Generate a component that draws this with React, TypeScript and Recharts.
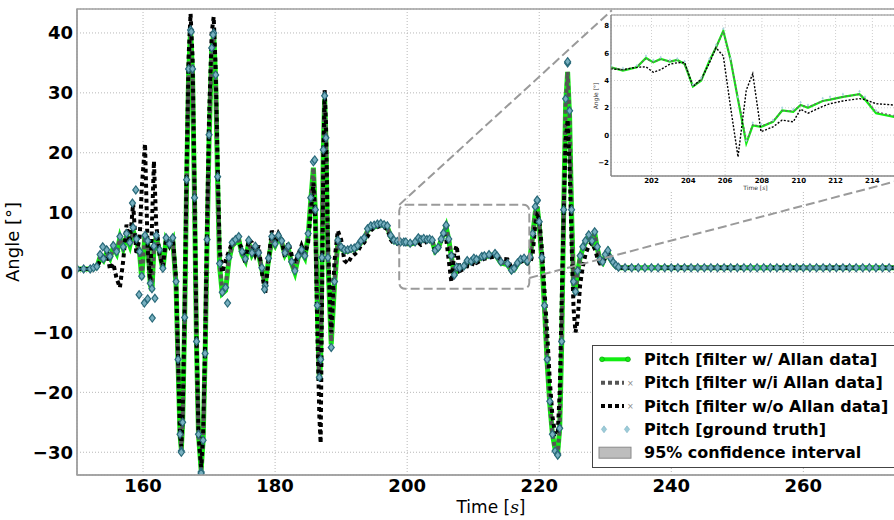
import React from 'react';
import {
  ComposedChart,
  Line,
  Scatter,
  XAxis,
  YAxis,
  CartesianGrid,
  ReferenceArea,
  ReferenceLine,
  Label,
} from 'recharts';

// time [s]
const TIME = [
  150, 151, 152, 152.5, 153, 153.5, 154, 154.5, 155, 155.5,
  156, 156.5, 157, 157.5, 158, 158.5, 159, 159.5, 159.8, 160.3,
  160.7, 161.1, 161.35, 161.65, 162, 162.5, 163, 163.5, 164, 164.5,
  165, 165.3, 165.6, 165.8, 166, 166.3, 166.6, 166.9, 167.2, 167.5,
  167.8, 168.1, 168.4, 168.8, 169.1, 169.4, 169.7, 170, 170.4, 170.7,
  171, 171.3, 171.6, 172, 172.5, 173, 173.5, 174, 174.5, 175,
  175.5, 176, 176.5, 177, 177.5, 178, 178.5, 179, 179.5, 180,
  180.5, 181, 181.5, 182, 182.5, 183, 183.5, 184, 184.5, 185,
  185.4, 185.8, 186.1, 186.4, 186.7, 186.9, 187.1, 187.3, 187.5, 187.7,
  188, 188.5, 189, 189.5, 190, 190.5, 191, 191.5, 192, 192.5,
  193, 193.5, 194, 194.5, 195, 195.5, 196, 196.5, 197, 197.5,
  198, 198.5, 199, 199.5, 199.8, 200.45, 201.2, 201.7, 202.1, 202.5,
  203, 203.4, 203.8, 204.25, 204.7, 205.15, 205.5, 205.9, 206.3, 206.7,
  207.15, 207.5, 207.95, 208.6, 209.1, 209.7, 210.1, 210.5, 211.3, 211.7,
  212.4, 213.3, 213.6, 214.2, 215.2, 215.8, 216.2, 216.7, 217.2, 217.7,
  218.2, 218.6, 219, 219.4, 219.7, 220, 220.4, 220.8, 221.2, 221.6,
  222, 222.4, 222.8, 223.1, 223.4, 223.7, 224, 224.3, 224.6, 224.9,
  225.2, 225.5, 225.8, 226.2, 226.6, 227, 227.5, 228, 228.4, 228.8,
  229.2, 229.6, 230, 230.4, 230.8, 231.2, 231.6, 232, 233, 234,
  235, 236, 237, 238, 239, 240, 241, 242, 243, 244,
  245, 246, 247, 248, 249, 250, 251, 252, 253, 254,
  255, 256, 257, 258, 259, 260, 261, 262, 263, 264,
  265, 266, 267, 268, 269, 270, 271, 272, 273, 274,
  275, 276,
];

// Pitch [filter w/ Allan data]
const PITCH_ALLAN = [
  0.6, 0.6, 0.6, 0.7, 0.9, 2.6, 2.0, 3.3, 2.4, 4.2,
  3.2, 5.8, 4.0, 6.0, 4.5, 7.0, 5.2, 3.0, -1.0, 6.5,
  5.0, -2.0, -3.0, 4.0, 6.0, 3.5, 0.5, 5.5, 4.5, 5.5,
  -2, -15, -27, -29.5, -25, -8, 15, 33, 40.5, 33,
  12, -12, -27, -33, -28, -14, 5, 22, 37, 40,
  32, 15, 1, -3.5, -3, 2, 4.5, 5, 5.5, 3,
  2, 5, 3, 4, 3, 0.5, -2, 2, 5.5, 4.5,
  5.8, 5, 3, 4, 1.5, 0, 2.5, 3.5, 2.5, 6,
  12, 17.5, 10, -6, -18, -15, 2, 20, 29, 22,
  2, -12, -2, 5, 4, 3.5, 3.5, 3.8, 3.8, 4.2,
  5, 5.5, 7, 7.5, 7.6, 7.8, 8, 7.8, 7.6, 6,
  5.2, 5, 5, 5, 4.97, 4.73, 4.97, 5.65, 5.33, 5.58,
  5.38, 5.5, 5.2, 3.56, 4.0, 5.45, 6.4, 7.64, 5.5, 2.6,
  -0.6, 0.7, 0.6, 0.97, 1.8, 1.7, 2.2, 2.0, 2.5, 2.6,
  2.8, 3.0, 2.6, 1.6, 1.33, 0.3, 0.5, 1.4, 2.0, 2.2,
  1.7, 2.4, 6, 10, 11, 8, 2, -6, -15, -22,
  -27, -29.5, -30, -26, -12, 10, 28, 33.5, 26, 10,
  -2, -3.5, 0, 2.5, 4, 5, 6, 5, 6.6, 4,
  2, 1.6, 2.8, 3.5, 2.2, 1.5, 1, 0.8, 0.8, 0.8,
  0.8, 0.8, 0.8, 0.8, 0.8, 0.8, 0.8, 0.8, 0.8, 0.8,
  0.8, 0.8, 0.8, 0.8, 0.8, 0.8, 0.8, 0.8, 0.8, 0.8,
  0.8, 0.8, 0.8, 0.8, 0.8, 0.8, 0.8, 0.8, 0.8, 0.8,
  0.8, 0.8, 0.8, 0.8, 0.8, 0.8, 0.8, 0.8, 0.8, 0.8,
  0.8, 0.8,
];

// Pitch [filter w/i Allan data]
const PITCH_WI = [
  0.6, 0.6, 0.6, 0.7, 0.9, 2.5, 2.1, 3.2, 2.5, 4.0,
  3.3, 5.6, 4.2, 5.9, 4.6, 6.8, 5.4, 3.2, -0.5, 6.3,
  5.2, -1.5, -2.8, 4.2, 5.8, 3.6, 0.8, 5.3, 4.6, 5.4,
  -2, -15, -27, -29.5, -25, -8, 15, 33, 40.5, 33,
  12, -12, -27, -33, -28, -14, 5, 22, 37, 40,
  32, 15, 1.5, -3, -2.5, 2.2, 4.5, 5, 5.4, 3.2,
  2.2, 5, 3.2, 4, 3.1, 0.7, -1.8, 2.2, 5.4, 4.6,
  5.7, 5, 3.2, 4, 1.7, 0.2, 2.5, 3.5, 2.6, 5.8,
  12, 17.5, 10, -6, -18, -15, 2, 20, 29, 22,
  2.5, -11.5, -1.5, 5, 4, 3.5, 3.5, 3.8, 3.8, 4.2,
  5, 5.5, 7, 7.5, 7.6, 7.8, 8, 7.8, 7.6, 6,
  5.2, 5, 5, 5, 4.97, 4.75, 5.0, 5.6, 5.35, 5.55,
  5.4, 5.5, 5.2, 3.6, 4.0, 5.4, 6.4, 7.6, 5.5, 2.7,
  -0.5, 0.75, 0.65, 1.0, 1.8, 1.75, 2.2, 2.05, 2.5, 2.6,
  2.8, 3.0, 2.7, 1.7, 1.4, 0.4, 0.6, 1.4, 2.0, 2.2,
  1.7, 2.4, 6, 10, 11, 8, 2, -6, -15, -22,
  -27, -29.5, -30, -26, -12, 10, 28, 33.5, 26, 10,
  -2, -3.5, 0, 2.5, 4, 5, 6, 5, 6.5, 4,
  2, 1.6, 2.8, 3.5, 2.2, 1.5, 1, 0.8, 0.8, 0.8,
  0.8, 0.8, 0.8, 0.8, 0.8, 0.8, 0.8, 0.8, 0.8, 0.8,
  0.8, 0.8, 0.8, 0.8, 0.8, 0.8, 0.8, 0.8, 0.8, 0.8,
  0.8, 0.8, 0.8, 0.8, 0.8, 0.8, 0.8, 0.8, 0.8, 0.8,
  0.8, 0.8, 0.8, 0.8, 0.8, 0.8, 0.8, 0.8, 0.8, 0.8,
  0.8, 0.8,
];

// Pitch [filter w/o Allan data]
const PITCH_WO = [
  0.6, 0.6, 0.6, 0.7, 0.9, 2.0, 2.8, 3.6, 0.5, 1.5,
  -1.0, -2.5, 2.0, 8.0, 5.0, 11.5, 3.0, 6.0, 14.0, 21.5,
  4.0, -2.0, 8.0, 18.6, 8.0, 3.0, 1.0, 5.8, 4.5, 6.0,
  -1, -14, -27, -29, -24, -6, 17, 36, 43.2, 36,
  14, -11, -27, -32.5, -27, -12, 8, 26, 40, 42.7,
  34, 18, 4, 0, 2, 3.5, 5, 6, 5, 4,
  1.5, 5.5, 5, 3, 4.5, 0, -3.5, 2, 7, 5,
  6.5, 5.5, 2.5, 5, 3, 1.5, 3, 4.5, 3, 5,
  10, 15, 8, -10, -24, -28.5, -5, 18, 30.5, 25,
  5, -10, 2, 7, 5.5, 2, 1.5, 2.5, 3, 3.5,
  4.5, 5, 6, 7, 7.5, 7.6, 7.8, 7.6, 7.2, 5.5,
  4.8, 4.8, 4.9, 4.9, 4.85, 4.8, 4.97, 5.0, 4.6, 4.8,
  5.2, 5.3, 5.33, 3.56, 4.1, 5.3, 6.4, 5.8, 2.0, -1.6,
  3.3, 4.5, 0.25, 0.6, 1.1, 0.97, 1.9, 1.6, 2.1, 2.3,
  2.5, 2.67, 2.6, 2.3, 2.2, 0.8, 0.9, 1.5, 1.8, 2.0,
  1.5, 1.5, 3, 8, 9.5, 9, 4, -3, -10, -18,
  -24, -27, -27, -20, -5, 10, 22, 25.5, 18, 5,
  -6, -10, -8, -2, 1, 3, 4.5, 5, 4, 2.5,
  1.5, 1.5, 2.5, 3.2, 2.5, 1.5, 1, 0.8, 0.8, 0.8,
  0.8, 0.8, 0.8, 0.8, 0.8, 0.8, 0.8, 0.8, 0.8, 0.8,
  0.8, 0.8, 0.8, 0.8, 0.8, 0.8, 0.8, 0.8, 0.8, 0.8,
  0.8, 0.8, 0.8, 0.8, 0.8, 0.8, 0.8, 0.8, 0.8, 0.8,
  0.8, 0.8, 0.8, 0.8, 0.8, 0.8, 0.8, 0.8, 0.8, 0.8,
  0.8, 0.8,
];

// Pitch [ground truth]
const PITCH_TRUTH = [
  0.6, 0.6, 0.6, 0.8, 1.0, 3.0, 2.3, 3.8, 2.7, 4.5,
  3.5, 6.0, 4.3, 6.5, 5.0, 7.5, 5.6, 3.5, -0.6, 6.2,
  5.3, -1.8, -2.7, 4.4, 6.2, 3.8, 0.7, 5.8, 4.8, 5.8,
  -1.5, -14.5, -27, -29.8, -25, -7.5, 15.5, 34, 40.5, 34,
  12.5, -11.5, -27, -33.3, -28, -13.5, 5.5, 23, 37.5, 40,
  33, 16, 1.5, -3.3, -2.5, 2.5, 5, 5.5, 6, 3.5,
  2.3, 5.4, 3.3, 4.4, 3.3, 0.8, -2.2, 2.4, 6, 4.8,
  6.2, 5.3, 3.3, 4.4, 1.8, 0.3, 2.8, 3.8, 2.8, 6.5,
  12.5, 18.5, 10.5, -5.5, -17.5, -14.5, 2.5, 20.5, 29.5, 22.5,
  2.5, -12.5, -1.5, 5.4, 4.3, 3.8, 3.8, 4, 4.1, 4.5,
  5.3, 5.8, 7.3, 7.8, 7.9, 8.1, 8.2, 8, 7.8, 6.2,
  5.4, 5.2, 5.1, 5.1, 5.1, 4.9, 5.1, 5.8, 5.5, 5.7,
  5.5, 5.6, 5.4, 3.7, 4.2, 5.6, 6.6, 7.8, 5.6, 2.8,
  -0.4, 0.9, 0.8, 1.1, 2.0, 1.9, 2.4, 2.2, 2.7, 2.8,
  3.0, 3.2, 2.8, 1.8, 1.5, 0.4, 0.7, 1.6, 2.2, 2.4,
  1.9, 2.6, 6.5, 11, 12, 8.5, 2.5, -5.5, -14.5, -21.5,
  -27, -29.8, -30.3, -26, -11.5, 10.5, 29, 35, 27, 10.5,
  -1.5, -3.2, 0.3, 2.8, 4.3, 5.3, 6.3, 5.3, 6.8, 4.3,
  2.2, 1.8, 3, 3.7, 2.4, 1.7, 1.2, 0.9, 0.8, 0.8,
  0.8, 0.8, 0.8, 0.8, 0.8, 0.8, 0.8, 0.8, 0.8, 0.8,
  0.8, 0.8, 0.8, 0.8, 0.8, 0.8, 0.8, 0.8, 0.8, 0.8,
  0.8, 0.8, 0.8, 0.8, 0.8, 0.8, 0.8, 0.8, 0.8, 0.8,
  0.8, 0.8, 0.8, 0.8, 0.8, 0.8, 0.8, 0.8, 0.8, 0.8,
  0.8, 0.8,
];

// stray ground-truth samples off the filtered curves
const TRUTH_EXTRA_T = [153.9, 158.4, 158.9, 159.4, 160.2, 160.7, 161.4, 161.8, 165.8, 167.3, 168.8, 170.6, 172.8, 178.4, 186.0, 205.9, 219.7, 222.8, 224.3];
const TRUTH_EXTRA_V = [4.3, 11.6, 13.8, -3.7, -5.1, -4.4, -7.6, -4.3, -30, 40.2, -33.5, 39.7, -5.1, -2.8, 18.8, 7.9, 12.1, -30.5, 35.2];

const X_TICKS = [160, 180, 200, 220, 240, 260];
const Y_TICKS = [-30, -20, -10, 0, 10, 20, 30, 40];
const INSET_X_TICKS = [202, 204, 206, 208, 210, 212, 214];
const INSET_Y_TICKS = [-2, 0, 2, 4, 6, 8];

const X_DOMAIN: [number, number] = [150, 276];
const Y_DOMAIN: [number, number] = [-33.8, 44];
const INSET_X_DOMAIN: [number, number] = [199.8, 215.5];
const INSET_Y_DOMAIN: [number, number] = [-3, 8.8];

const rows = TIME.map((t, i) => ({
  t,
  allan: PITCH_ALLAN[i],
  wi: PITCH_WI[i],
  wo: PITCH_WO[i],
  truth: PITCH_TRUTH[i],
}));
const extraRows = TRUTH_EXTRA_T.map((t, i) => ({ t, truth: TRUTH_EXTRA_V[i] }));
const insetRows = rows.filter((r) => r.t >= 199 && r.t <= 216);

const FONT = '"DejaVu Sans", Verdana, sans-serif';
const GREEN = '#11ee11';

const fmt = (v: number) => (v < 0 ? `\u2212${Math.abs(v)}` : `${v}`);

const diamond = (h: number, fill: string, stroke: string, sw: number) => (props: any) => {
  const { cx, cy } = props;
  if (cx == null || cy == null) return <g />;
  const w = h * 0.75;
  return (
    <path
      d={`M${cx},${cy - h}L${cx + w},${cy}L${cx},${cy + h}L${cx - w},${cy}Z`}
      fill={fill}
      stroke={stroke}
      strokeWidth={sw}
    />
  );
};

const mainDiamond = diamond(4, '#78b0c0', '#2a6a7a', 1.2);
const insetDiamond = diamond(1.6, '#a9d2de', 'none', 0);

// main axes box (px)
const PLOT = { left: 77, top: 9, width: 832, height: 466 };

function Legend() {
  const rowsY = [13.3, 36.7, 60, 83.3, 106.7];
  const labels = [
    'Pitch [filter w/ Allan data]',
    'Pitch [filter w/i Allan data]',
    'Pitch [filter w/o Allan data]',
    'Pitch [ground truth]',
    '95% confidence interval',
  ];
  return (
    <div
      style={{
        position: 'absolute',
        left: 592,
        top: 345,
        width: 320,
        height: 121,
        border: '1px solid #444',
        background: '#fff',
      }}
    >
      <svg width={320} height={121}>
        <line x1={9} x2={35} y1={rowsY[0]} y2={rowsY[0]} stroke={GREEN} strokeWidth={4} />
        <circle cx={9} cy={rowsY[0]} r={2.4} fill={GREEN} stroke="#0a9a0a" strokeWidth={0.7} />
        <circle cx={35} cy={rowsY[0]} r={2.4} fill={GREEN} stroke="#0a9a0a" strokeWidth={0.7} />
        <line x1={8} x2={31} y1={rowsY[1]} y2={rowsY[1]} stroke="#555" strokeWidth={4} strokeDasharray="4 3" />
        <text x={34} y={rowsY[1] + 3} fontSize={8} fill="#888" fontFamily={FONT}>×</text>
        <line x1={8} x2={31} y1={rowsY[2]} y2={rowsY[2]} stroke="#000" strokeWidth={4} strokeDasharray="4 3" />
        <text x={34} y={rowsY[2] + 3} fontSize={8} fill="#888" fontFamily={FONT}>×</text>
        {diamond(3.5, '#9ccbd8', '#7fb4c4', 0.6)({ cx: 11, cy: rowsY[3] })}
        {diamond(3.5, '#9ccbd8', '#7fb4c4', 0.6)({ cx: 34, cy: rowsY[3] })}
        <rect x={6} y={rowsY[4] - 5.5} width={32} height={11} fill="#bdbdbd" stroke="#8a8a8a" />
        {labels.map((l, i) => (
          <text
            key={l}
            x={51}
            y={rowsY[i]}
            dy="0.36em"
            fontFamily={FONT}
            fontWeight="bold"
            fontSize={16}
            fill="#000"
          >
            {l}
          </text>
        ))}
      </svg>
    </div>
  );
}

export default function App() {
  return (
    <div
      style={{
        position: 'fixed',
        left: 0,
        top: 0,
        width: 894,
        height: 520,
        overflow: 'hidden',
        background: '#fff',
        fontFamily: FONT,
      }}
    >
      {/* main axes */}
      <div style={{ position: 'absolute', left: 0, top: 0 }}>
        <ComposedChart width={960} height={520} data={rows} margin={{ top: 9, right: 51, bottom: 0, left: 7 }}>
          <CartesianGrid stroke="#b8b8b8" strokeDasharray="1 2" />
          <XAxis
            dataKey="t"
            type="number"
            domain={X_DOMAIN}
            ticks={X_TICKS}
            allowDataOverflow
            height={45}
            tickSize={0}
            tickMargin={4}
            axisLine={{ stroke: '#a0a0a0', strokeWidth: 1.5 }}
            tick={{ fill: '#000', fontSize: 18, fontWeight: 'bold', fontFamily: FONT }}
          >
            <Label
              content={() => (
                <text x={PLOT.left + PLOT.width / 2 - 2} y={513} textAnchor="middle" fontFamily={FONT} fontSize={17} fill="#000">
                  Time [<tspan fontStyle="italic" fontFamily="DejaVu Serif">s</tspan>]
                </text>
              )}
            />
          </XAxis>
          <YAxis
            type="number"
            domain={Y_DOMAIN}
            ticks={Y_TICKS}
            allowDataOverflow
            width={70}
            tickSize={0}
            tickMargin={4}
            tickFormatter={fmt}
            axisLine={{ stroke: '#a0a0a0', strokeWidth: 1.5 }}
            tick={{ fill: '#000', fontSize: 18, fontWeight: 'bold', fontFamily: FONT }}
          >
            <Label
              content={() => {
                const cx = 19;
                const cy = PLOT.top + PLOT.height / 2;
                return (
                  <text x={cx} y={cy} transform={`rotate(-90 ${cx} ${cy})`} textAnchor="middle" fontFamily={FONT} fontSize={18} fill="#000">
                    Angle [°]
                  </text>
                );
              }}
            />
          </YAxis>
          <Line type="linear" dataKey="allan" stroke={GREEN} strokeWidth={5} dot={false} activeDot={false} isAnimationActive={false} />
          <Line type="linear" dataKey="wi" stroke="#555555" strokeWidth={4} strokeDasharray="4 3" dot={false} activeDot={false} isAnimationActive={false} />
          <Line type="linear" dataKey="wo" stroke="#000000" strokeWidth={4} strokeDasharray="4 3.5" dot={false} activeDot={false} isAnimationActive={false} />
          <Scatter dataKey="truth" shape={mainDiamond} isAnimationActive={false} />
          <Scatter data={extraRows} dataKey="truth" shape={mainDiamond} isAnimationActive={false} />
        </ComposedChart>
      </div>

      {/* zoomed inset */}
      <div style={{ position: 'absolute', left: 588, top: 10, width: 330, height: 182, background: '#fff' }}>
        <ComposedChart width={316} height={182} data={insetRows} margin={{ top: 5, right: 4, bottom: 0, left: 7 }}>
          <CartesianGrid stroke="#cfcfcf" strokeDasharray="1 2" />
          <XAxis
            dataKey="t"
            type="number"
            domain={INSET_X_DOMAIN}
            ticks={INSET_X_TICKS}
            allowDataOverflow
            height={16}
            tickSize={0}
            tickMargin={2}
            axisLine={{ stroke: '#888' }}
            tick={{ fill: '#000', fontSize: 7, fontWeight: 'bold', fontFamily: FONT }}
          >
            <Label
              content={() => (
                <text x={23 + 289 / 2} y={180} textAnchor="middle" fontFamily={FONT} fontSize={6} fill="#333">
                  Time [<tspan fontStyle="italic">s</tspan>]
                </text>
              )}
            />
          </XAxis>
          <YAxis
            type="number"
            domain={INSET_Y_DOMAIN}
            ticks={INSET_Y_TICKS}
            allowDataOverflow
            width={16}
            tickSize={0}
            tickMargin={2}
            tickFormatter={fmt}
            axisLine={{ stroke: '#888' }}
            tick={{ fill: '#000', fontSize: 7, fontWeight: 'bold', fontFamily: FONT }}
          >
            <Label
              content={() => (
                <text x={10} y={86} transform="rotate(-90 10 86)" textAnchor="middle" fontFamily={FONT} fontSize={6} fill="#333">
                  Angle [°]
                </text>
              )}
            />
          </YAxis>
          <ReferenceArea x1={INSET_X_DOMAIN[0]} x2={INSET_X_DOMAIN[1]} y1={INSET_Y_DOMAIN[0]} y2={INSET_Y_DOMAIN[1]} fill="none" stroke="#888" strokeWidth={1} ifOverflow="visible" />
          <Line type="linear" dataKey="allan" stroke={GREEN} strokeWidth={2.2} dot={false} activeDot={false} isAnimationActive={false} />
          <Line type="linear" dataKey="wi" stroke="#666" strokeWidth={1.4} strokeDasharray="2 2" dot={false} activeDot={false} isAnimationActive={false} />
          <Line type="linear" dataKey="wo" stroke="#000" strokeWidth={1.4} strokeDasharray="2 1.6" dot={false} activeDot={false} isAnimationActive={false} />
          <Scatter dataKey="truth" shape={insetDiamond} isAnimationActive={false} />
        </ComposedChart>
      </div>

      {/* frame + zoom box + connectors on top */}
      <div style={{ position: 'absolute', left: 0, top: 0, pointerEvents: 'none' }}>
        <ComposedChart width={960} height={520} data={rows} margin={{ top: 9, right: 51, bottom: 45, left: 77 }}>
          <XAxis dataKey="t" type="number" domain={X_DOMAIN} allowDataOverflow hide />
          <YAxis type="number" domain={Y_DOMAIN} allowDataOverflow hide />
          <ReferenceArea x1={X_DOMAIN[0]} x2={X_DOMAIN[1]} y1={Y_DOMAIN[0]} y2={Y_DOMAIN[1]} fill="none" stroke="#a0a0a0" strokeWidth={1.5} ifOverflow="visible" />
          <ReferenceArea
            x1={198.8}
            x2={218.5}
            y1={-2.7}
            y2={11.3}
            ifOverflow="visible"
            shape={(p: any) => (
              <rect x={p.x} y={p.y} width={p.width} height={p.height} rx={6} ry={6} fill="none" stroke="#9a9a9a" strokeWidth={2} strokeDasharray="9 4" />
            )}
          />
          <ReferenceLine segment={[{ x: 198.8, y: 11.3 }, { x: 231, y: 43.8 }]} stroke="#9a9a9a" strokeWidth={2} strokeDasharray="9 4" ifOverflow="visible" />
          <ReferenceLine segment={[{ x: 218.5, y: -0.9 }, { x: 278, y: 16.4 }]} stroke="#9a9a9a" strokeWidth={2} strokeDasharray="9 4" ifOverflow="visible" />
        </ComposedChart>
      </div>

      <Legend />
    </div>
  );
}
